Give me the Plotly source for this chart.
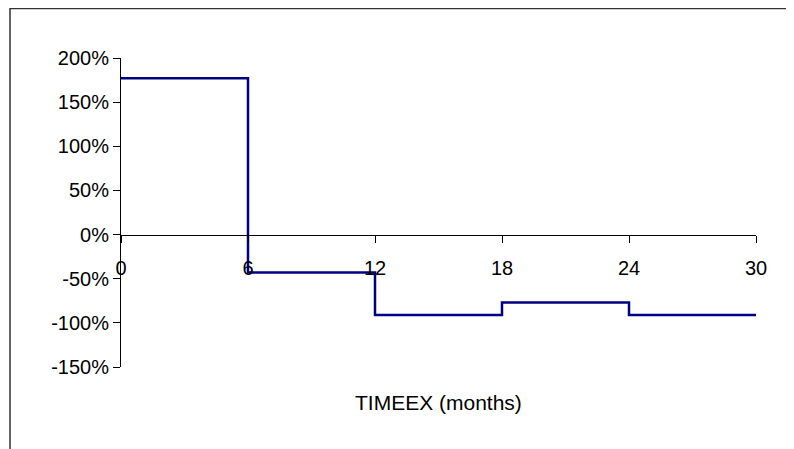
import plotly.graph_objects as go

# TIMEEX step values (months -> relative change)
months = [0, 6, 12, 18, 24, 30]
change = [1.77, -0.43, -0.91, -0.77, -0.91, -0.91]

x_ticks = [0, 6, 12, 18, 24, 30]
y_ticks = [-1.5, -1.0, -0.5, 0.0, 0.5, 1.0, 1.5, 2.0]
y_labels = ["%d%%" % round(v * 100) for v in y_ticks]

fig = go.Figure()
fig.add_trace(go.Scatter(
    x=months, y=change, mode="lines", line_shape="hv",
    line=dict(color="#000080", width=2.5), cliponaxis=False,
    showlegend=False, hoverinfo="skip",
))

fig.update_layout(
    width=794, height=449,
    margin=dict(l=113, r=46, t=50, b=90, autoexpand=False),
    paper_bgcolor="white", plot_bgcolor="white",
    font=dict(family="Liberation Sans, Arial, sans-serif", size=20, color="black"),
    xaxis=dict(
        range=[0, 30], tickvals=x_ticks, showgrid=False, zeroline=False,
        showline=True, linecolor="black", linewidth=1,
        ticks="outside", ticklen=7, tickcolor="black",
        anchor="free", position=1.5 / 3.5, ticklabelstandoff=8,
    ),
    yaxis=dict(
        range=[-1.5, 2.0], tickvals=y_ticks, ticktext=y_labels,
        showgrid=False, zeroline=False,
        showline=True, linecolor="black", linewidth=1,
        ticks="outside", ticklen=7, tickcolor="black",
    ),
    annotations=[dict(
        text="TIMEEX (months)", xref="paper", yref="paper",
        x=0.5, y=-0.1165, yanchor="middle", showarrow=False, font=dict(size=21),
    )],
    # outer chart frame: only its left and top edges fall inside the page
    shapes=[dict(
        type="rect", xref="paper", yref="paper",
        x0=-0.1748, x1=1.6, y0=-0.6, y1=1.16,
        line=dict(color="#333333", width=1.5),
    )],
)

fig.write_html("out.html")
